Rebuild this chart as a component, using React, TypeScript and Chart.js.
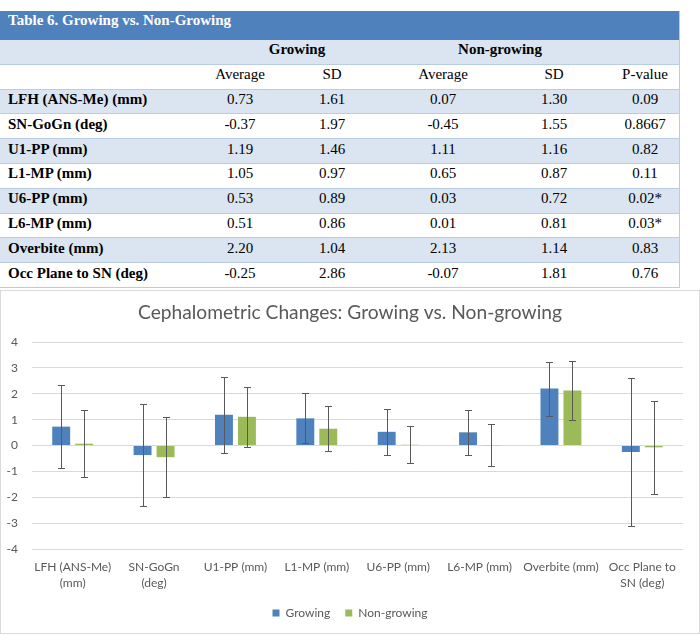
import React, { useEffect, useRef } from "react";
import { Chart, registerables } from "chart.js";

Chart.register(...registerables);

// ---------- data ----------
const tableTitle = "Table 6. Growing vs. Non-Growing";
const groupHeaders = ["Growing", "Non-growing"];
const subHeaders = ["Average", "SD", "Average", "SD", "P-value"];
const rowLabels = [
  "LFH (ANS-Me) (mm)",
  "SN-GoGn (deg)",
  "U1-PP (mm)",
  "L1-MP (mm)",
  "U6-PP (mm)",
  "L6-MP (mm)",
  "Overbite (mm)",
  "Occ Plane to SN (deg)",
];
const growingAvg = [0.73, -0.37, 1.19, 1.05, 0.53, 0.51, 2.2, -0.25];
const growingSD = [1.61, 1.97, 1.46, 0.97, 0.89, 0.86, 1.04, 2.86];
const nonGrowingAvg = [0.07, -0.45, 1.11, 0.65, 0.03, 0.01, 2.13, -0.07];
const nonGrowingSD = [1.3, 1.55, 1.16, 0.87, 0.72, 0.81, 1.14, 1.81];
const pValues = ["0.09", "0.8667", "0.82", "0.11", "0.02*", "0.03*", "0.83", "0.76"];

const chartTitle = "Cephalometric Changes: Growing vs. Non-growing";
const chartCategories: (string | string[])[] = [
  ["LFH (ANS-Me)", "(mm)"],
  ["SN-GoGn", "(deg)"],
  "U1-PP (mm)",
  "L1-MP (mm)",
  "U6-PP (mm)",
  "L6-MP (mm)",
  "Overbite (mm)",
  ["Occ Plane to", "SN (deg)"],
];
const seriesNames = ["Growing", "Non-growing"];
const yMin = -4;
const yMax = 4;
const yStep = 1;

// ---------- styles ----------
const BLUE = "#4f81bd";
const GREEN = "#9bbb59";
const TEXT = "#595959";
const colWidths = [205, 70, 114, 108, 114, 68];
const serif = "'Liberation Serif', 'Times New Roman', serif";

const errorBarPlugin = {
  id: "errorBars",
  afterDatasetsDraw(chart: any, _args: any, opts: any) {
    const ctx = chart.ctx;
    const y = chart.scales.y;
    const errs: number[][] = opts.errors || [];
    chart.data.datasets.forEach((ds: any, i: number) => {
      const meta = chart.getDatasetMeta(i);
      meta.data.forEach((bar: any, j: number) => {
        const v = ds.data[j];
        const e = errs[i][j];
        const top = Math.round(y.getPixelForValue(v + e)) + 0.5;
        const bot = Math.round(y.getPixelForValue(v - e)) + 0.5;
        const x = Math.round(bar.x) + 0.5;
        ctx.save();
        ctx.strokeStyle = "#595959";
        ctx.lineWidth = 1;
        ctx.beginPath();
        ctx.moveTo(x, top);
        ctx.lineTo(x, bot);
        ctx.moveTo(x - 3.5, top);
        ctx.lineTo(x + 3.5, top);
        ctx.moveTo(x - 3.5, bot);
        ctx.lineTo(x + 3.5, bot);
        ctx.stroke();
        ctx.restore();
      });
    });
  },
};

function DataTable() {
  const rowH = 24.8;
  const border = "1px solid #b8cce4";
  const cell = (w: number, content: React.ReactNode, align: "left" | "center", bold = false, key?: any) => (
    <div
      key={key}
      style={{
        width: w,
        textAlign: align,
        fontWeight: bold ? "bold" : "normal",
        paddingLeft: align === "left" ? 8 : 0,
        boxSizing: "border-box",
        whiteSpace: "nowrap",
      }}
    >
      {content}
    </div>
  );
  const rowStyle = (shaded: boolean): React.CSSProperties => ({
    display: "flex",
    alignItems: "center",
    height: rowH,
    boxSizing: "border-box",
    borderBottom: border,
    background: shaded ? "#dbe5f1" : "#ffffff",
    paddingBottom: 4,
  });
  return (
    <div
      style={{
        position: "absolute",
        left: 0,
        top: 11,
        width: 680,
        fontFamily: serif,
        fontSize: 15,
        lineHeight: "17px",
        color: "#000",
        borderRight: border,
        boxSizing: "border-box",
      }}
    >
      <div
        style={{
          height: 29,
          background: BLUE,
          color: "#fff",
          fontWeight: "bold",
          paddingLeft: 8,
          paddingTop: 1,
          boxSizing: "border-box",
        }}
      >
        {tableTitle}
      </div>
      <div style={rowStyle(true)}>
        {cell(colWidths[0], "", "left")}
        {cell(colWidths[1] + colWidths[2], groupHeaders[0], "center", true)}
        {cell(colWidths[3] + colWidths[4], groupHeaders[1], "center", true)}
        {cell(colWidths[5], "", "center")}
      </div>
      <div style={rowStyle(false)}>
        {cell(colWidths[0], "", "left")}
        {subHeaders.map((h, i) => cell(colWidths[i + 1], h, "center", false, i))}
      </div>
      {rowLabels.map((lab, r) => (
        <div key={r} style={rowStyle(r % 2 === 0)}>
          {cell(colWidths[0], lab, "left", true)}
          {cell(colWidths[1], growingAvg[r].toFixed(2), "center")}
          {cell(colWidths[2], growingSD[r].toFixed(2), "center")}
          {cell(colWidths[3], nonGrowingAvg[r].toFixed(2), "center")}
          {cell(colWidths[4], nonGrowingSD[r].toFixed(2), "center")}
          {cell(colWidths[5], pValues[r], "center")}
        </div>
      ))}
    </div>
  );
}

function BarChart() {
  const ref = useRef<HTMLCanvasElement>(null);
  useEffect(() => {
    if (!ref.current) return;
    const font = "Lato";
    const chart = new Chart(ref.current, {
      type: "bar",
      data: {
        labels: chartCategories as any,
        datasets: [
          {
            label: seriesNames[0],
            data: growingAvg,
            backgroundColor: BLUE,
            categoryPercentage: 0.565,
            barPercentage: 0.78,
          },
          {
            label: seriesNames[1],
            data: nonGrowingAvg,
            backgroundColor: GREEN,
            categoryPercentage: 0.565,
            barPercentage: 0.78,
          },
        ],
      },
      options: {
        responsive: false,
        animation: false,
        devicePixelRatio: 1,
        layout: { padding: { left: 0, right: 0, top: 0, bottom: 4 } },
        plugins: {
          title: {
            display: true,
            text: chartTitle,
            color: TEXT,
            font: { family: font, size: 19.2, weight: "normal" },
            padding: { top: 10, bottom: 18 },
          },
          legend: {
            position: "bottom",
            labels: {
              boxWidth: 7,
              boxHeight: 7,
              padding: 15,
              color: TEXT,
              font: { family: font, size: 12 },
            },
          },
          tooltip: { enabled: false },
          errorBars: { errors: [growingSD, nonGrowingSD] },
        } as any,
        scales: {
          x: {
            grid: { display: false, drawTicks: false },
            border: { display: false },
            ticks: {
              color: TEXT,
              padding: 10,
              maxRotation: 0,
              autoSkip: false,
              font: { family: font, size: 12, lineHeight: 16 / 12 },
            },
            afterFit(scale: any) {
              scale.height = 43;
            },
          },
          y: {
            min: yMin,
            max: yMax,
            grid: { color: "#d9d9d9", drawTicks: false },
            border: { display: false },
            ticks: {
              stepSize: yStep,
              color: TEXT,
              padding: 14,
              font: { family: font, size: 12 },
            },
            afterFit(scale: any) {
              scale.width = 31;
            },
          },
          yRightSpacer: {
            type: "linear",
            position: "right",
            display: true,
            grid: { display: false, drawTicks: false },
            border: { display: false },
            ticks: { display: false },
            afterFit(scale: any) {
              scale.width = 16;
            },
          },
        } as any,
      },
      plugins: [errorBarPlugin],
    });
    return () => chart.destroy();
  }, []);
  return (
    <>
      <div
        style={{
          position: "absolute",
          left: 0,
          top: 290,
          width: 700,
          height: 344,
          border: "1px solid #d9d9d9",
          boxSizing: "border-box",
        }}
      />
      <canvas
        ref={ref}
        width={698}
        height={342}
        style={{ position: "absolute", left: 1, top: 291, width: 698, height: 342 }}
      />
    </>
  );
}

export default function App() {
  return (
    <div style={{ position: "absolute", left: 0, top: 0, width: 700, height: 636, background: "#fff" }}>
      <DataTable />
      <BarChart />
    </div>
  );
}
